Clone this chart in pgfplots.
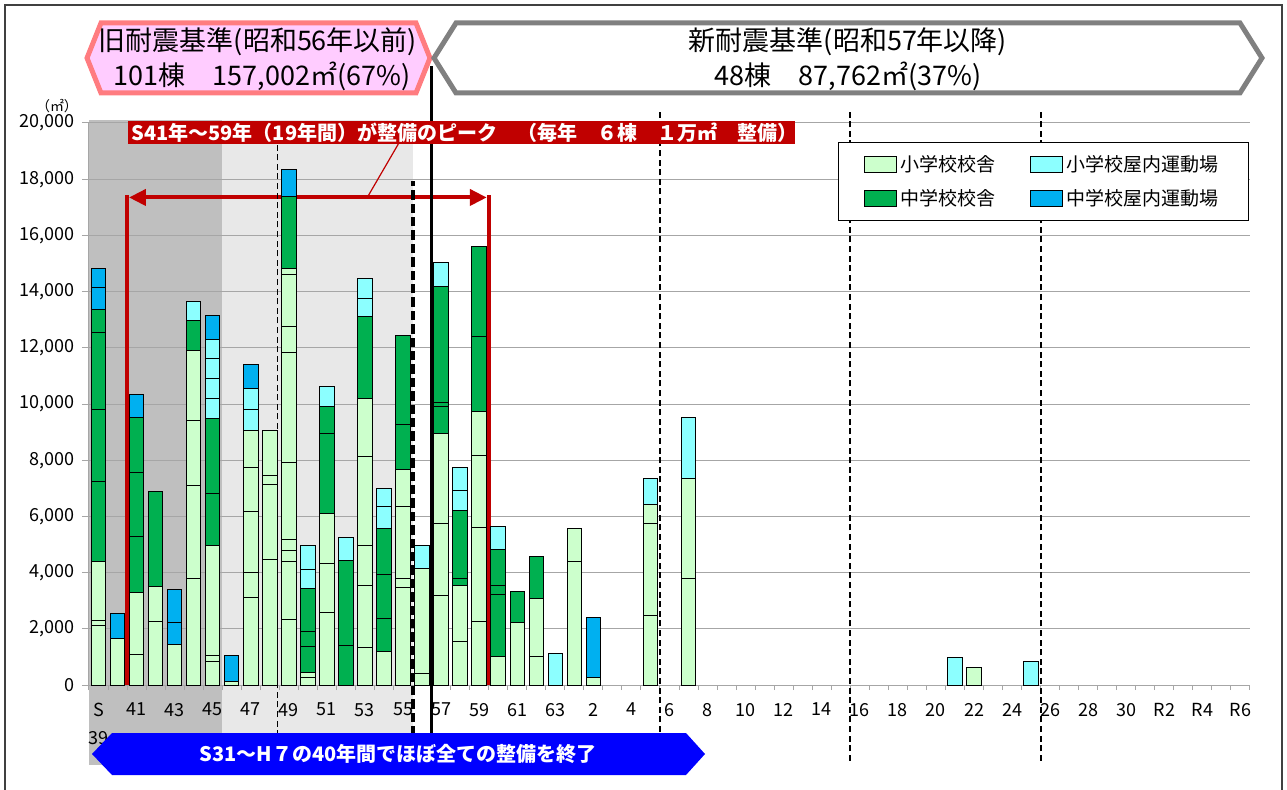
\documentclass[border=0pt]{standalone}
\usepackage{fontspec}
\setmainfont{Noto Sans CJK JP}
\usepackage{pgfplots}
\pgfplotsset{compat=1.18}
\usepackage{pgfplotstable}
\usetikzlibrary{arrows.meta}
\definecolor{LG}{HTML}{CCFFCC}
\definecolor{DG}{HTML}{00B050}
\definecolor{CY}{HTML}{8CFFFF}
\definecolor{BL}{HTML}{00B0F0}
\definecolor{darkred}{HTML}{C00000}
\definecolor{pinkfill}{HTML}{FFCCFF}
\definecolor{pinkline}{HTML}{FF7C80}
\definecolor{bgdark}{HTML}{BFBFBF}
\definecolor{bglight}{HTML}{E8E8E8}
\definecolor{gridc}{HTML}{A6A6A6}
\definecolor{boxgray}{HTML}{808080}

\pgfplotstableread{
x  L1   L2   L3   L4   L5   L6   L7  L8   L9  D1   D2   D3   D4  C1   C2  C3  C4  B1   B2
0  2120 180  2080 0    0    0    0   0    0   2850 2590 2730 830 0    0   0   0   760  670
1  1670 0    0    0    0    0    0   0    0   0    0    0    0   0    0   0   0   870  0
2  1075 2215 0    0    0    0    0   0    0   2000 2285 1935 0   0    0   0   0   830  0
3  2270 1250 0    0    0    0    0   0    0   3370 0    0    0   0    0   0   0   0    0
4  1440 0    0    0    0    0    0   0    0   0    0    0    0   0    0   0   0   790  1180
5  3800 3305 2325 2485 0    0    0   0    0   1060 0    0    0   670  0   0   0   0    0
6  820  230  3910 0    0    0    0   0    0   1855 2685 0    0   685  710 710 685 845  0
7  110  0    0    0    0    0    0   0    0   0    0    0    0   0    0   0   0   940  0
8  3130 870  2180 1570 1300 0    0   0    0   0    0    0    0   765  725 0   0   870  0
9  4450 2700 295  1625 0    0    0   0    0   0    0    0    0   0    0   0   0   0    0
10 2325 2070 400  390  2740 3910 925 1865 190 2585 0    0    0   0    0   0   0   935  0
11 255  190  0    0    0    0    0   0    0   915  550  1520 0   685  860 0   0   0    0
12 2580 1745 1775 0    0    0    0   0    0   2860 965  0    0   710  0   0   0   0    0
13 0    0    0    0    0    0    0   0    0   1410 3020 0    0   805  0   0   0   0    0
14 1330 2215 1425 3170 2070 0    0   0    0   2890 0    0    0   660  710 0   0   0    0
15 1195 0    0    0    0    0    0   0    0   1155 1585 1625 0   780  645 0   0   0    0
16 3480 295  2595 1290 0    0    0   0    0   1625 3155 0    0   0    0   0   0   0    0
17 415  3730 0    0    0    0    0   0    0   0    0    0    0   830  0   0   0   0    0
18 3180 2560 3225 0    0    0    0   0    0   955  145  4120 0   835  0   0   0   0    0
19 1560 1965 0    0    0    0    0   0    0   260  2430 0    0   690  835 0   0   0    0
20 2275 3345 2560 1545 0    0    0   0    0   2690 3200 0    0   0    0   0   0   0    0
21 1010 0    0    0    0    0    0   0    0   2200 345  1260 0   820  0   0   0   0    0
22 2240 0    0    0    0    0    0   0    0   1095 0    0    0   0    0   0   0   0    0
23 1025 2060 0    0    0    0    0   0    0   1490 0    0    0   0    0   0   0   0    0
24 0    0    0    0    0    0    0   0    0   0    0    0    0   1110 0   0   0   0    0
25 4395 1165 0    0    0    0    0   0    0   0    0    0    0   0    0   0   0   0    0
26 260  0    0    0    0    0    0   0    0   0    0    0    0   0    0   0   0   2155 0
29 2475 3285 655  0    0    0    0   0    0   0    0    0    0   930  0   0   0   0    0
31 3800 3560 0    0    0    0    0   0    0   0    0    0    0   2165 0   0   0   0    0
45 0    0    0    0    0    0    0   0    0   0    0    0    0   990  0   0   0   0    0
46 640  0    0    0    0    0    0   0    0   0    0    0    0   0    0   0   0   0    0
49 0    0    0    0    0    0    0   0    0   0    0    0    0   840  0   0   0   0    0
}\data

\pgfplotsset{frame/.style={
  at={(44.5pt,52pt)}, anchor=south west,
  scale only axis, width=580.5pt, height=281pt,
  xmin=-0.5, xmax=60.5, ymin=0, ymax=20000, clip=false}}

\begin{document}
\begin{tikzpicture}
\useasboundingbox (0,0) rectangle (643.5pt,394.5pt);
% background shading (separate axis with the same geometry)
\begin{axis}[frame, hide axis]
\fill[bgdark] (axis cs:-0.5,-2850) rectangle (axis cs:6.5,20100);
\fill[bglight] (axis cs:6.5,-2100) rectangle (axis cs:16.5,20100);
\end{axis}

\begin{axis}[
  frame,
  ybar stacked, bar width=0.76,
  axis x line*=bottom, axis y line*=left,
  axis line style={draw=gridc, line width=0.5pt},
  ymajorgrids, grid style={draw=gridc, line width=0.5pt},
  ytick={0,2000,...,20000},
  scaled y ticks=false,
  yticklabel style={/pgf/number format/1000 sep={,}, /pgf/number format/assume math mode=true},
  xtick={0,2,...,60},
  xticklabels={{S\\[3pt]39},41,43,45,47,49,51,53,55,57,59,61,63,2,4,6,8,10,12,14,16,18,20,22,24,26,28,30,R2,R4,R6},
  xticklabel style={align=center, yshift=-2pt},
  minor xtick={-0.5,0.5,...,60.5},
  tick align=outside,
  major tick length=3.5pt, minor tick length=2.5pt,
  tick style={draw=gridc, line width=0.5pt},
  major x tick style={draw=none},
  tick label style={font=\fontsize{9}{11}\selectfont},
  every axis plot/.append style={draw=black, line width=0.5pt},
  legend columns=2, transpose legend,
  legend cell align=left,
  legend image code/.code={\draw[#1,draw=black,line width=0.5pt] (0pt,-4.2pt) rectangle (16pt,4.2pt);},
  legend style={at={(0.999,0.966)}, anchor=north east, draw=black, line width=0.5pt,
    font=\fontsize{9.5}{11}\selectfont, inner xsep=12.75pt, inner ysep=4.2pt, row sep=3.5pt,
    /tikz/every even column/.append style={column sep=15pt}},
]
\addplot[fill=LG] table[x=x,y=L1]{\data}; \addlegendentry{小学校校舎}
\addplot[fill=LG, forget plot] table[x=x,y=L2]{\data};
\addplot[fill=LG, forget plot] table[x=x,y=L3]{\data};
\addplot[fill=LG, forget plot] table[x=x,y=L4]{\data};
\addplot[fill=LG, forget plot] table[x=x,y=L5]{\data};
\addplot[fill=LG, forget plot] table[x=x,y=L6]{\data};
\addplot[fill=LG, forget plot] table[x=x,y=L7]{\data};
\addplot[fill=LG, forget plot] table[x=x,y=L8]{\data};
\addplot[fill=LG, forget plot] table[x=x,y=L9]{\data};
\addplot[fill=DG] table[x=x,y=D1]{\data}; \addlegendentry{中学校校舎}
\addplot[fill=DG, forget plot] table[x=x,y=D2]{\data};
\addplot[fill=DG, forget plot] table[x=x,y=D3]{\data};
\addplot[fill=DG, forget plot] table[x=x,y=D4]{\data};
\addplot[fill=CY] table[x=x,y=C1]{\data}; \addlegendentry{小学校屋内運動場}
\addplot[fill=CY, forget plot] table[x=x,y=C2]{\data};
\addplot[fill=CY, forget plot] table[x=x,y=C3]{\data};
\addplot[fill=CY, forget plot] table[x=x,y=C4]{\data};
\addplot[fill=BL] table[x=x,y=B1]{\data}; \addlegendentry{中学校屋内運動場}
\addplot[fill=BL, forget plot] table[x=x,y=B2]{\data};

% reference lines
\draw[black, line width=0.9pt, dash pattern=on 3pt off 1.8pt] (axis cs:9.4,-2850) -- (axis cs:9.4,19400);
\draw[black, line width=2pt, dash pattern=on 4.7pt off 2pt] (axis cs:16.5,-1800) -- (axis cs:16.5,17940);
\draw[black, line width=1.7pt] (axis cs:17.5,-2135) -- (axis cs:17.5,22030);
\draw[black, line width=0.9pt, dash pattern=on 3pt off 1.8pt] (axis cs:29.5,-2700) -- (axis cs:29.5,20460);
\draw[black, line width=0.9pt, dash pattern=on 3pt off 1.8pt] (axis cs:39.5,-2700) -- (axis cs:39.5,20460);
\draw[black, line width=0.9pt, dash pattern=on 3pt off 1.8pt] (axis cs:49.5,-2700) -- (axis cs:49.5,20460);

% red peak markers
\draw[darkred, line width=2.1pt] (axis cs:1.5,0) -- (axis cs:1.5,17420);
\draw[darkred, line width=2.1pt] (axis cs:20.5,0) -- (axis cs:20.5,17420);
\draw[darkred, line width=2pt, {Triangle[length=8.5pt,width=8pt]}-{Triangle[length=8.5pt,width=8pt]}] (axis cs:1.6,17350) -- (axis cs:20.4,17350);
\draw[darkred, line width=0.6pt] (axis cs:15.75,19250) -- (axis cs:14.12,17350);
\end{axis}

\begin{scope}[x=0.5pt,y=-0.5pt,yshift=394.5pt]
  \draw[black!75, line width=0.6pt] (5,900) -- (5,5) -- (1282,5) -- (1282,900);
  \node[font=\fontsize{7}{8}\selectfont] at (57,106) {（㎡）};
  % red banner
  \fill[darkred] (128,121) rectangle (795,144);
  \node[text=white, font=\bfseries\fontsize{10}{12}\selectfont, anchor=west, inner sep=0pt] at (131,132.5)
    {S41年～59年（19年間）が整備のピーク　（毎年　６棟　１万㎡　整備）};
  % old standard box
  \draw[pinkline, fill=pinkfill, line width=2.5pt, line join=miter]
    (87,58) -- (101,23) -- (416,23) -- (430,58) -- (416,93) -- (101,93) -- cycle;
  \node[font=\fontsize{13.5}{16}\selectfont] at (258,42) {旧耐震基準(昭和56年以前)};
  \node[font=\fontsize{13.5}{16}\selectfont] at (262,76) {101棟　157,002㎡(67\%)};
  % new standard box
  \draw[boxgray, fill=white, line width=2.5pt, line join=miter]
    (434,58) -- (456,23) -- (1240,23) -- (1262,58) -- (1240,93) -- (456,93) -- cycle;
  \node[font=\fontsize{13.5}{16}\selectfont] at (848,42) {新耐震基準(昭和57年以降)};
  \node[font=\fontsize{13.5}{16}\selectfont] at (848,76) {48棟　87,762㎡(37\%)};
  % blue banner
  \fill[blue] (92,754) -- (112,733) -- (686,733) -- (705,754) -- (686,775) -- (112,775) -- cycle;
  \node[text=white, font=\bfseries\fontsize{10}{12}\selectfont] at (398,754)
    {S31～H７の40年間でほぼ全ての整備を終了};
\end{scope}
\end{tikzpicture}
\end{document}
